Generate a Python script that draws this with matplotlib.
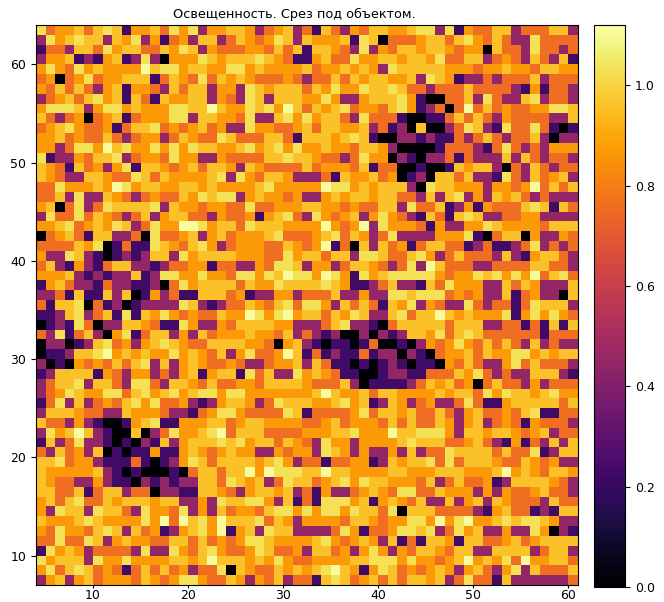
import matplotlib
matplotlib.use("Agg")
import matplotlib.pyplot as plt
import numpy as np

# illumination, one code per cell, top row first
left_rows = [
"6 3 4 4 5 3 5 6 5 1 4 4 5 3 6 4 6 2 4 4 5 5 4 2 3 4 5 2",
"2 6 4 5 6 5 5 2 5 4 6 2 4 1 3 4 2 5 5 2 3 5 4 3 4 6 5 2",
"1 3 3 2 5 5 3 6 4 5 5 3 3 5 4 6 5 2 4 3 3 3 4 4 3 5 3 5",
"2 4 4 5 1 2 1 4 5 1 2 6 2 0 4 4 4 6 5 4 5 5 5 6 5 4 3 1",
"4 6 4 3 6 4 5 4 4 4 4 7 5 6 6 4 5 5 4 4 6 6 4 5 4 4 4 4",
"3 4 0 3 4 6 3 4 4 5 5 5 1 3 5 4 3 6 3 5 4 5 4 3 3 3 4 3",
"4 3 5 3 5 3 2 4 5 1 4 4 3 2 5 3 5 5 2 4 4 2 6 5 4 5 5 5",
"2 3 4 5 3 5 6 4 5 1 5 3 1 5 4 4 5 5 2 4 3 2 6 5 2 5 5 5",
"4 6 6 6 5 2 4 6 6 4 5 4 4 4 6 6 5 5 7 5 4 4 6 5 6 4 7 5",
"5 3 2 3 4 0 3 4 5 1 3 4 4 4 6 6 2 5 5 4 4 3 6 2 2 5 6 4",
"3 4 5 6 4 3 3 4 1 3 5 5 6 3 4 3 4 5 3 4 2 2 6 4 4 3 3 4",
"4 4 5 3 4 3 3 5 3 2 3 4 4 2 3 5 4 3 3 6 5 3 3 3 5 5 3 1",
"4 4 2 3 6 6 4 7 5 6 4 4 6 4 6 4 6 5 5 4 4 5 6 4 5 6 4 6",
"6 1 2 2 4 3 5 5 6 2 3 4 4 3 6 4 4 2 2 4 3 3 3 3 5 5 6 5",
"5 4 3 1 5 3 4 2 4 6 1 5 5 4 3 4 5 3 5 5 4 2 5 4 3 3 3 3",
"5 4 3 2 2 5 5 4 3 3 6 5 3 5 4 4 4 4 5 6 2 6 4 3 5 5 4 2",
"3 3 6 4 4 4 5 4 7 6 4 5 5 4 4 5 5 4 5 4 4 4 4 5 6 4 4 4",
"3 3 5 2 6 2 2 5 4 3 2 3 4 3 3 5 4 6 5 6 6 2 4 5 4 4 3 4",
"4 5 0 3 6 2 3 6 5 5 5 5 6 2 5 4 4 3 4 4 3 3 6 3 3 4 4 4",
"2 6 3 3 6 3 5 4 3 2 3 5 2 4 5 5 3 3 2 4 3 3 4 1 4 5 6 3",
"4 4 5 6 3 4 5 4 6 5 2 3 6 4 4 7 7 6 4 5 5 3 6 5 5 5 4 4",
"0 3 4 5 3 1 5 5 2 2 3 0 6 3 3 4 5 2 4 5 3 4 4 4 5 6 3 3",
"3 3 3 3 5 4 6 0 1 3 1 1 6 5 4 3 5 6 4 2 3 4 4 4 3 3 5 4",
"4 2 2 6 5 2 1 0 1 2 1 2 5 5 2 6 4 5 5 5 5 4 4 4 3 3 6 4",
"3 5 2 1 4 2 1 3 5 5 2 2 1 2 3 3 4 4 1 3 3 2 2 4 3 6 6 5",
"4 4 4 5 2 1 2 1 2 2 5 1 2 6 6 4 4 6 4 4 3 6 6 4 6 5 7 6",
"1 4 5 3 2 2 1 3 2 2 1 1 2 0 3 6 4 5 5 5 5 3 5 4 4 6 5 5",
"2 2 3 1 5 1 1 5 2 5 0 1 4 2 3 1 1 5 5 5 3 4 1 2 2 4 4 2",
"3 1 5 5 6 0 3 1 2 0 1 2 2 2 2 6 5 2 1 2 3 3 5 4 3 5 6 3",
"1 1 2 5 6 2 3 5 1 6 1 5 4 6 4 3 4 3 3 5 4 4 7 6 4 6 7 4",
"0 1 2 1 6 3 0 2 2 5 5 4 3 1 1 6 4 2 2 4 3 5 5 5 5 4 4 2",
"3 2 6 1 3 5 2 0 4 6 1 3 5 5 2 4 2 5 3 4 4 4 5 4 4 3 5 2",
"0 2 2 0 1 2 5 6 3 4 2 4 5 6 5 4 3 3 5 5 5 5 4 4 3 0 4 5",
"0 1 1 2 5 5 6 7 4 5 4 5 4 4 6 4 5 4 3 5 2 4 6 3 3 4 7 5",
"2 0 1 0 4 3 4 3 5 3 5 6 2 5 2 4 5 4 3 3 4 3 2 2 3 4 4 5",
"1 2 5 5 5 5 1 4 3 2 4 4 2 3 2 4 5 1 4 5 5 1 6 3 5 2 2 6",
"2 3 5 5 6 2 5 5 3 2 6 6 3 2 5 5 4 3 5 3 3 4 4 3 5 5 5 5",
"2 3 4 6 5 4 4 6 6 3 5 6 4 5 6 4 5 6 6 4 6 6 4 4 4 4 4 4",
"1 3 6 2 5 2 3 4 3 5 6 4 6 3 3 4 2 1 2 4 5 5 4 2 3 6 5 5",
"2 5 5 5 4 3 3 2 2 5 4 4 4 3 2 2 1 3 4 6 6 4 3 3 3 3 6 5",
"5 3 3 2 4 2 1 0 0 1 4 5 6 1 1 4 4 4 5 5 3 4 5 5 4 4 4 4",
"2 6 4 5 7 5 2 1 0 0 5 0 2 3 6 4 4 5 6 7 3 5 5 5 3 3 3 3",
"1 5 2 3 6 2 2 1 0 1 0 2 1 5 2 4 5 5 5 6 5 6 4 5 5 3 5 4",
"3 2 5 3 4 2 5 0 1 0 1 1 4 1 1 4 5 4 3 4 5 4 4 2 2 4 3 4",
"5 5 6 3 4 4 2 1 1 1 3 1 0 1 2 4 6 5 3 5 5 5 5 4 5 6 4 2",
"5 4 4 4 4 4 5 2 1 0 1 0 0 0 1 0 3 5 5 3 5 5 7 4 7 6 6 6",
"5 4 3 3 2 2 4 2 1 1 0 2 1 2 1 2 2 5 5 3 6 5 4 5 2 3 6 5",
"5 5 3 3 5 1 3 5 5 2 3 3 0 2 2 1 1 5 5 4 3 2 4 5 5 4 5 2",
"4 5 3 5 6 3 3 5 4 5 5 5 4 5 5 2 2 4 2 6 5 5 6 6 4 2 5 1",
"4 2 6 5 5 2 6 5 5 3 2 6 4 4 3 6 2 4 2 5 3 4 4 3 5 6 6 4",
"5 4 4 4 5 6 5 4 4 4 4 6 4 7 3 7 5 6 4 7 5 5 5 6 3 5 4 2",
"4 3 6 4 4 3 5 6 5 2 5 3 4 1 2 4 5 6 4 7 1 4 5 2 6 5 5 2",
"3 3 6 3 3 6 5 2 4 5 4 4 3 3 5 5 3 5 3 4 3 4 6 6 5 4 4 4",
"1 6 4 5 4 2 3 3 3 3 2 6 2 2 6 4 3 5 6 4 3 3 4 6 5 3 3 4",
"6 4 5 5 5 2 6 4 4 6 4 4 4 4 5 5 4 5 7 5 5 5 4 5 4 6 4 3",
"4 6 3 5 6 5 3 4 3 1 3 5 3 5 3 4 2 3 3 6 0 5 4 3 3 5 4 5",
"2 4 5 2 4 5 3 4 4 4 3 5 4 3 4 6 6 4 3 3 5 4 2 4 3 5 2 3",
]
right_rows = [
"3 1 5 3 2 4 3 5 5 4 4 5 6 6 2 6 1 4 3 3 5 5 2 3 3 3 5 5 2",
"5 4 4 4 5 1 6 5 0 3 3 3 4 5 5 3 5 6 4 3 5 3 2 2 6 3 3 3 3",
"1 5 5 4 3 2 6 2 4 3 5 5 4 5 5 4 3 4 4 0 5 3 3 2 6 3 3 2 3",
"1 4 5 3 3 6 4 4 5 5 4 5 5 4 6 3 3 5 5 2 3 4 3 2 5 3 2 5 1",
"5 3 4 4 5 4 5 4 2 6 5 5 5 5 5 4 4 4 3 4 4 5 4 4 3 5 5 4 4",
"2 3 3 5 3 5 4 5 5 4 4 5 2 6 5 4 1 2 2 3 2 3 3 3 5 2 3 3 3",
"3 5 4 6 4 4 6 5 5 6 5 3 3 2 3 3 3 5 3 3 3 3 2 1 4 1 3 3 2",
"4 4 6 4 2 2 4 5 5 5 6 4 1 0 0 3 3 5 2 6 3 2 2 5 6 2 3 3 2",
"3 5 4 5 6 3 4 4 3 5 6 4 1 2 3 0 3 7 3 5 3 4 3 3 4 4 6 6 5",
"6 4 5 5 3 2 6 3 3 3 1 0 0 1 1 3 5 3 5 3 2 4 3 3 3 3 2 2 5",
"5 3 5 5 4 4 5 2 3 1 2 0 5 0 0 2 3 6 5 2 1 6 3 3 6 3 1 0 1",
"5 5 5 4 5 6 5 1 0 0 2 2 1 2 1 1 3 2 3 5 3 2 3 3 5 2 0 2 2",
"4 4 5 4 4 3 5 5 4 2 0 0 0 0 1 3 3 3 2 1 3 6 3 2 3 2 4 4 4",
"5 4 3 3 2 3 6 4 4 0 2 1 0 2 2 3 1 3 2 2 2 5 2 5 3 2 3 3 2",
"5 3 4 4 4 3 5 1 3 3 0 0 1 0 0 1 5 4 5 5 2 0 3 2 5 3 2 3 3",
"2 2 3 1 5 4 4 5 3 4 0 1 2 0 5 5 3 5 2 2 1 6 3 2 5 3 4 5 2",
"4 4 7 6 6 4 5 4 5 5 5 2 0 6 5 5 4 4 4 2 4 4 3 4 7 3 5 3 5",
"2 2 4 5 4 5 5 4 5 5 3 3 2 5 2 5 6 2 4 2 5 4 5 3 2 3 2 2 2",
"5 5 4 4 3 4 3 3 5 5 2 6 3 3 5 1 2 4 1 4 3 3 3 5 6 5 1 5 3",
"2 6 4 3 4 5 2 4 6 4 3 2 1 5 3 1 5 6 5 2 2 3 3 4 4 2 2 2 2",
"4 4 7 4 3 4 7 2 6 4 4 4 3 1 4 2 2 4 4 6 5 4 4 4 4 3 5 5 5",
"3 4 5 6 3 5 4 2 3 6 2 2 2 2 4 4 4 6 1 0 3 5 5 0 4 2 2 4 3",
"3 4 7 1 3 0 5 2 5 3 4 1 3 5 5 3 3 1 2 3 1 1 2 3 6 2 3 2 3",
"5 5 3 5 5 2 6 6 5 3 3 5 6 4 2 3 5 3 3 3 2 5 2 1 4 5 5 3 2",
"2 4 4 2 3 5 5 4 3 2 3 6 2 7 5 3 3 3 2 2 3 3 3 3 5 5 3 3 2",
"6 4 7 6 4 1 6 4 5 6 6 6 6 6 4 3 4 4 6 5 6 4 6 4 7 3 5 6 3",
"5 5 6 5 4 1 1 2 3 5 2 2 1 5 3 6 4 4 4 2 2 5 3 5 4 2 2 2 5",
"3 3 3 5 2 2 4 2 2 6 6 5 6 6 6 3 4 3 4 2 2 5 1 3 4 2 2 0 5",
"6 6 4 2 5 3 5 3 1 5 4 6 2 4 3 2 2 6 3 2 3 3 1 3 6 5 5 5 2",
"5 5 3 5 4 6 5 2 2 5 6 3 5 5 7 5 4 5 4 4 4 6 1 4 6 4 6 4 3",
"2 2 3 5 6 2 2 1 0 3 5 5 5 5 5 3 5 5 5 2 2 3 3 1 3 1 5 1 5",
"3 2 1 2 0 0 2 0 2 1 2 5 5 4 6 3 5 6 5 3 3 3 3 3 3 1 3 3 3",
"2 1 0 1 1 0 1 3 0 0 1 0 2 4 3 4 6 4 3 5 3 5 3 2 5 2 3 2 2",
"1 3 1 2 1 1 3 1 2 2 0 2 1 0 3 4 4 5 3 5 4 4 6 6 4 5 4 5 5",
"2 5 3 1 1 0 1 0 1 2 1 0 1 1 0 4 3 5 3 2 2 4 6 3 5 3 3 3 2",
"4 5 4 3 1 1 0 0 1 2 2 1 1 3 3 3 5 4 6 3 2 3 2 2 5 5 5 2 1",
"4 3 3 3 5 2 0 1 1 1 1 2 3 5 4 5 3 4 0 3 5 3 3 2 4 2 3 3 3",
"4 5 7 5 4 4 5 3 5 5 4 4 4 4 5 4 5 5 3 6 4 6 5 5 4 5 6 4 4",
"5 4 4 5 6 4 5 1 2 5 4 2 3 4 2 2 3 6 3 1 1 4 5 5 5 5 5 3 5",
"1 3 3 3 3 4 6 3 5 5 4 5 3 3 5 3 2 4 5 3 3 4 3 5 6 1 1 3 3",
"3 3 4 5 3 4 4 4 3 5 3 5 3 3 5 4 2 4 5 2 3 4 3 1 4 3 3 3 2",
"4 4 4 5 5 6 4 4 4 7 5 5 6 6 6 4 2 5 5 4 5 5 4 3 4 5 2 3 3",
"3 2 6 4 4 2 4 4 4 4 5 6 5 5 5 3 3 4 5 3 2 1 4 1 3 2 5 2 5",
"4 2 6 5 4 2 4 2 2 4 2 5 2 3 3 6 5 5 5 5 3 5 3 3 6 1 2 5 5",
"3 3 1 3 3 4 4 1 2 5 4 5 5 6 3 6 3 5 5 5 4 3 3 5 4 3 4 2 2",
"5 5 7 5 5 4 4 4 4 5 5 4 4 4 5 5 5 4 4 4 5 7 4 5 4 3 5 5 4",
"5 3 4 5 6 4 6 5 5 4 4 4 3 5 2 3 5 3 3 4 1 2 5 5 5 5 4 3 2",
"3 1 4 2 2 3 4 5 4 3 6 6 3 3 5 4 4 4 2 4 2 4 3 3 4 5 3 3 2",
"3 1 6 6 6 4 5 1 4 5 4 3 5 2 2 5 2 4 5 2 5 4 3 3 3 2 5 3 3",
"6 4 6 6 4 6 5 5 3 6 0 5 5 5 3 3 3 3 2 1 4 5 3 3 1 2 1 5 5",
"4 4 4 4 3 5 5 4 3 4 4 6 6 4 7 4 6 7 4 4 5 6 5 6 6 5 4 2 2",
"2 2 2 3 6 4 1 3 3 4 6 6 5 6 2 3 6 4 5 2 2 4 2 2 6 4 0 2 1",
"4 5 6 4 3 4 5 4 2 5 1 3 1 5 5 4 1 5 5 3 3 4 5 3 4 5 5 5 5",
"2 5 5 3 4 2 4 6 4 2 4 3 5 5 4 3 5 5 2 2 5 5 5 5 2 3 5 5 2",
"3 4 4 4 4 5 5 6 6 6 4 6 4 4 3 4 5 7 4 5 4 6 3 7 4 4 5 5 3",
"4 5 6 7 5 4 1 4 6 5 3 4 3 4 5 4 2 4 5 3 2 4 6 2 5 3 3 3 5",
"3 1 5 6 5 3 4 5 3 5 3 5 5 4 5 2 3 6 3 3 1 5 2 2 2 2 2 2 3",
]
# illumination value behind each code
level_values = [0.0, 0.22, 0.45, 0.76, 0.87, 0.96, 1.03, 1.11]

x_edges = np.arange(4, 62)
y_edges = np.arange(7, 65)
x_ticks = [10, 20, 30, 40, 50, 60]
y_ticks = [10, 20, 30, 40, 50, 60]
bar_ticks = [0.0, 0.2, 0.4, 0.6, 0.8, 1.0]

codes = np.array([(a + " " + b).split() for a, b in zip(left_rows, right_rows)], dtype=int)
light = np.array(level_values)[codes][::-1]

fig = plt.figure(figsize=(6.64, 6.02), dpi=100)
ax = fig.add_axes([36 / 664, 1 - 585 / 602, 542 / 664, 560 / 602])
cax = fig.add_axes([594 / 664, 1 - 587 / 602, 31 / 664, 562 / 602])

mesh = ax.pcolormesh(x_edges, y_edges, light, cmap="inferno", vmin=0, vmax=1.12)
ax.set_xticks(x_ticks)
ax.set_yticks(y_ticks)
ax.tick_params(labelsize=9)
ax.tick_params(axis="x", length=2.5, pad=0.5)
# title sits left of the axes centre in the original
ax.set_title("Освещенность. Срез под объектом.", fontsize=9.3, pad=5, x=258 / 542)

bar = fig.colorbar(mesh, cax=cax)
bar.set_ticks(bar_ticks)
bar.ax.tick_params(labelsize=9)

fig.savefig("out.png", dpi=100)
